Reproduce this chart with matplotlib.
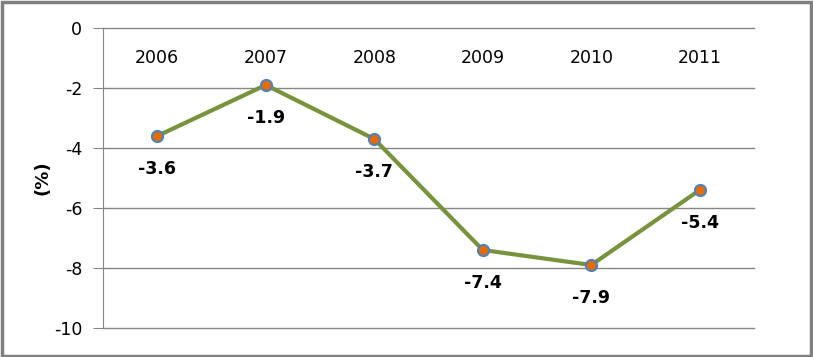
import matplotlib
matplotlib.use("Agg")
import matplotlib.pyplot as plt
from matplotlib.patches import Rectangle

years = ["2006", "2007", "2008", "2009", "2010", "2011"]
values = [-3.6, -1.9, -3.7, -7.4, -7.9, -5.4]
yticks = [0, -2, -4, -6, -8, -10]

fig = plt.figure(figsize=(8.13, 3.57), dpi=100)
ax = fig.add_axes([103/813, 1 - 328/357, 651/813, 300/357])

x = list(range(len(years)))
ax.plot(x, values, color="#77933C", lw=3, zorder=3,
        marker="o", markersize=8, markerfacecolor="#E36C09",
        markeredgecolor="#4F81BD", markeredgewidth=1.5)

for xi, v in zip(x, values):
    ax.annotate(f"{v}", (xi, v), xytext=(0, -24), textcoords="offset points",
                ha="center", va="center", fontsize=12.5, fontweight="bold")

for xi, yr in zip(x, years):
    ax.text(xi, -1, yr, ha="center", va="center", fontsize=12.5)

ax.set_xlim(-0.5, len(years) - 0.5)
ax.set_ylim(-10, 0)
ax.set_yticks(yticks)
ax.set_yticklabels([str(t) for t in yticks], fontsize=12.5)
ax.set_xticks([])
for t in yticks:
    ax.axhline(t, color="#868686", lw=1, clip_on=False, zorder=1)
ax.tick_params(axis="y", length=7, color="#868686", pad=8)
for s in ["top", "right", "bottom"]:
    ax.spines[s].set_visible(False)
ax.spines["left"].set_color("#868686")
ax.set_ylabel("(%)", fontsize=13, fontweight="bold", labelpad=2)

fig.patches.append(Rectangle((0.002, 0.004), 0.995, 0.99, transform=fig.transFigure,
                             fill=False, edgecolor="#808080", lw=2.5))

fig.savefig("out.png", dpi=100)
